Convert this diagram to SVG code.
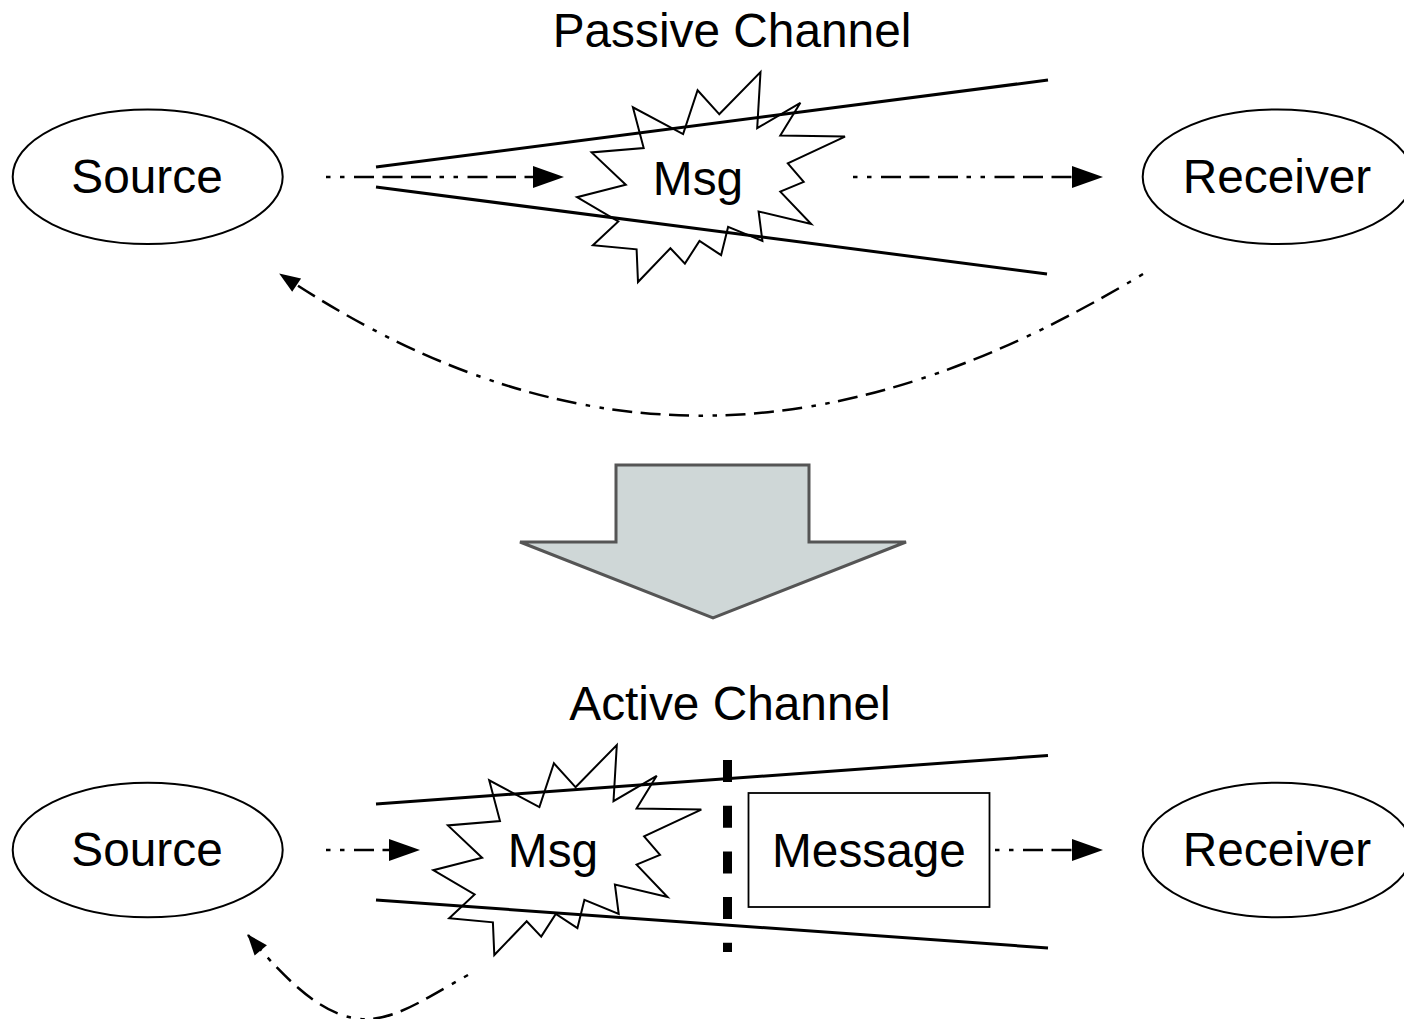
<svg xmlns="http://www.w3.org/2000/svg" xmlns:xlink="http://www.w3.org/1999/xlink" width="1404" height="1019" viewBox="0 0 1404 1019">
<style>
  text { font-family: "Liberation Sans", Arial, sans-serif; font-size: 47.8px; fill: #000; text-anchor: middle; }
  .node { fill: #fff; stroke: #000; stroke-width: 2; }
  .bang { fill: #fff; stroke: #000; stroke-width: 2; stroke-linejoin: miter; }
  .chan { stroke: #000; stroke-width: 3; fill: none; }
  .flow { stroke: #000; stroke-width: 2.5; fill: none; stroke-dasharray: 4.5 9.5 4.5 9.5 20 8.5 20 8.5 20 8.5; }
</style>
<defs>
  <marker id="ah" markerUnits="userSpaceOnUse" markerWidth="32" markerHeight="22" refX="0" refY="11" orient="auto" overflow="visible">
    <path d="M0,0 L31,11 L0,22 z" fill="#000"/>
  </marker>
  <marker id="ahs" markerUnits="userSpaceOnUse" markerWidth="22" markerHeight="16" refX="20" refY="8" orient="auto" overflow="visible">
    <path d="M0,0 L21,8 L0,16 z" fill="#000"/>
  </marker>
  <polygon id="bang" class="bang" points="719.2,114.2 697.6,90.3 683.1,134.1 632.9,107.3 643.7,148.0 591.6,152.4 625.8,184.7 577,197.2 618.3,221.5 592.9,245.3 636.6,249.3 638.0,282 670.4,248.2 684.9,263.6 699.5,240.9 721.1,255.2 728.1,226.9 762.4,240.9 758.6,211.5 811.2,224.0 780.3,191.7 803.7,181.8 787.8,163.4 845,136.6 780.3,135.5 800.4,102.8 757.2,128.2 760.5,72"/>
</defs>

<g id="title-passive"><text x="732" y="47">Passive Channel</text></g>

<g id="source-top">
  <ellipse class="node" cx="147.7" cy="176.7" rx="135" ry="67.3"/>
  <text x="147" y="193">Source</text>
</g>
<g id="receiver-top">
  <ellipse class="node" cx="1277.7" cy="176.7" rx="135" ry="67.3"/>
  <text x="1277" y="193">Receiver</text>
</g>
<g id="msg-top">
  <use xlink:href="#bang"/>
</g>
<g id="channel-top">
  <line class="chan" x1="376" y1="167" x2="1048" y2="80"/>
  <line class="chan" x1="376" y1="187" x2="1047" y2="274"/>
</g>
<g id="msg-top-label"><text x="698" y="195">Msg</text></g>

<g id="transition-arrow">
  <polygon points="616,465 809,465 809,542 906,542 713,618 520,542 616,542" fill="#cfd7d7" stroke="#555" stroke-width="3" stroke-linejoin="miter"/>
</g>

<g id="title-active"><text x="730" y="720">Active Channel</text></g>

<g id="source-bottom">
  <ellipse class="node" cx="147.7" cy="850" rx="135" ry="67.3"/>
  <text x="147" y="866">Source</text>
</g>
<g id="receiver-bottom">
  <ellipse class="node" cx="1277.7" cy="850" rx="135" ry="67.3"/>
  <text x="1277" y="866">Receiver</text>
</g>
<g id="msg-bottom">
  <use xlink:href="#bang" transform="translate(-143.7 673)"/>
</g>
<g id="channel-bottom">
  <line class="chan" x1="376" y1="804" x2="1048" y2="755.5"/>
  <line class="chan" x1="376" y1="900" x2="1048" y2="948"/>
</g>
<g id="msg-bottom-label"><text x="553" y="867">Msg</text></g>
<g id="barrier">
  <line x1="727.5" y1="760" x2="727.5" y2="952" stroke="#000" stroke-width="9" stroke-dasharray="22 23.7"/>
</g>
<g id="message">
  <rect x="748.5" y="793" width="241" height="114" fill="#fff" stroke="#000" stroke-width="1.8"/>
  <text x="869" y="867">Message</text>
</g>

<g id="connectors">
  <line class="flow" x1="326" y1="177" x2="533" y2="177" marker-end="url(#ah)"/>
  <line class="flow" x1="853" y1="177" x2="1072" y2="177" marker-end="url(#ah)"/>
  <path class="flow" d="M1143,274 C860,445 588,480 280,274" marker-end="url(#ahs)"/>
  <line class="flow" x1="326" y1="850" x2="389" y2="850" marker-end="url(#ah)"/>
  <line class="flow" x1="995" y1="850" x2="1072" y2="850" marker-end="url(#ah)"/>
  <path class="flow" d="M468,975 C383,1022 351,1059 248,935" marker-end="url(#ahs)"/>
</g>
</svg>
